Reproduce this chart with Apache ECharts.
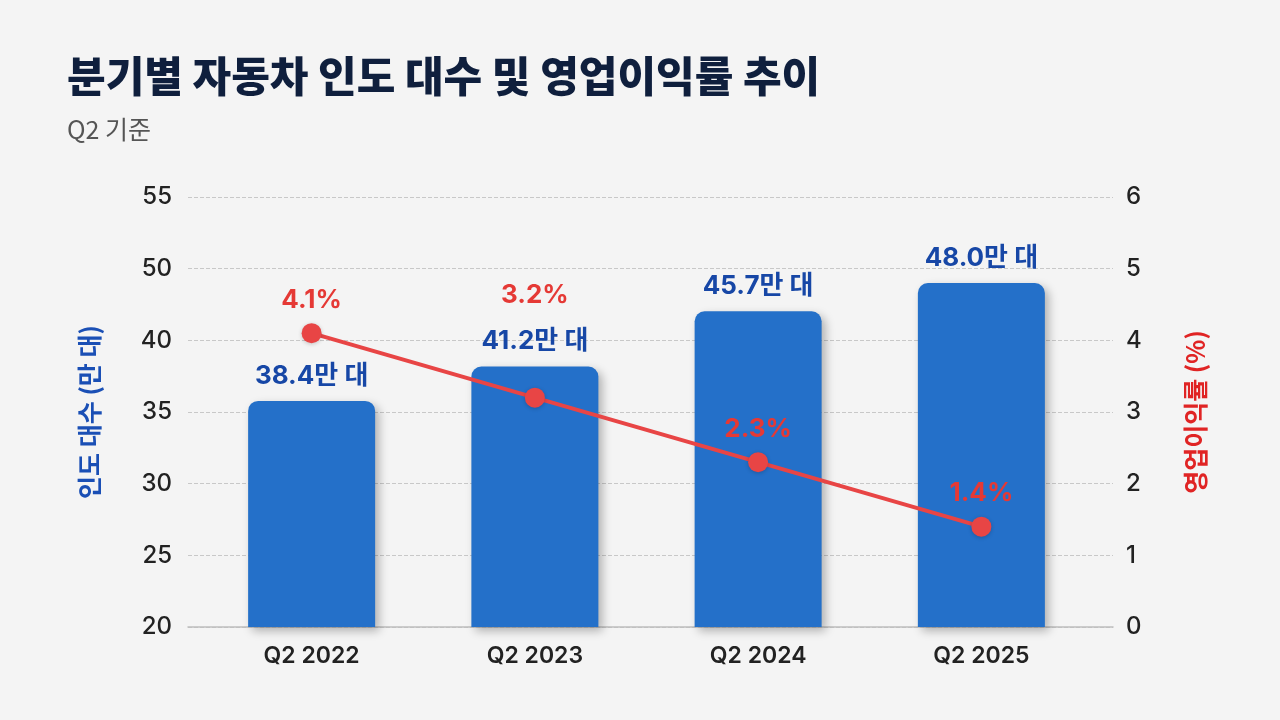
<!DOCTYPE html>
<html><head><meta charset="utf-8">
<script src="https://cdn.jsdelivr.net/npm/echarts@6/dist/echarts.min.js"></script>
<style>html,body{margin:0;padding:0;background:#f4f4f4}#c{width:1280px;height:720px}</style>
</head><body><div id="c"></div>
<script>
const categories = ['Q2 2022', 'Q2 2023', 'Q2 2024', 'Q2 2025'];
const deliveries = [38.4, 41.2, 45.7, 48.0];      // 만 대
const opMargins = [4.1, 3.2, 2.3, 1.4];           // %
const leftTickLabels = ['20', '25', '30', '35', '40', '50', '55'];
const rightTickLabels = ['0', '1', '2', '3', '4', '5', '6'];

const FONT = "Inter, 'Noto Sans CJK KR', sans-serif";
const KFONT = "'Noto Sans CJK KR', sans-serif";
const BAR_LABEL_DIST = 12;
const BAR_LABEL_H = 32;
const chart = echarts.init(document.getElementById('c'));

// keep a margin label clear of the delivery label of the same quarter
function avoidBarLabel(params) {
  const i = params.dataIndex;
  let p;
  try { p = chart.convertToPixel({ xAxisIndex: 1, yAxisIndex: 2 }, [i, deliveries[i]]); } catch (e) { return {}; }
  if (!p) return {};
  const blBottom = p[1] - BAR_LABEL_DIST;
  const blTop = blBottom - BAR_LABEL_H;
  const r = params.labelRect;
  if (r.y < blBottom && r.y + r.height > blTop) {
    return { dy: (blTop - 14) - (r.y + r.height) };
  }
  return {};
}

chart.setOption({
  backgroundColor: '#f4f4f4',
  animation: false,
  title: {
    left: 62, top: 50,
    text: '분기별 자동차 인도 대수 및 영업이익률 추이',
    subtext: 'Q2 기준',
    itemGap: 20,
    textStyle: { fontFamily: KFONT, fontSize: 42, fontWeight: 900, color: '#0f1f3d' },
    subtextStyle: { fontFamily: KFONT, fontSize: 25, color: '#555555' }
  },
  grid: [
    { left: 188, right: 167, top: 197, bottom: 93 },
    { left: 200, right: 187, top: 197, bottom: 93 }
  ],
  xAxis: [
    { gridIndex: 0, type: 'value', min: 0, max: 1, axisLabel: { show: false }, axisTick: { show: false },
      splitLine: { show: false }, axisLine: { show: true, lineStyle: { color: '#bdbdbd', width: 1.5 } } },
    { gridIndex: 1, type: 'category', data: categories,
      axisLine: { show: false }, axisTick: { show: false },
      axisLabel: { margin: 18, fontFamily: FONT, fontSize: 23, fontWeight: 600, color: '#222' } }
  ],
  yAxis: [
    { gridIndex: 0, type: 'value', position: 'left', min: 0, max: 6, interval: 1,
      axisLine: { show: false }, axisTick: { show: false },
      splitLine: { show: true, lineStyle: { type: 'dashed', color: '#c8c8c8', width: 1 } },
      axisLabel: { margin: 16, fontFamily: FONT, fontSize: 24, fontWeight: 500, color: '#222',
        formatter: (v) => leftTickLabels[Math.round(v)] },
      name: '인도 대수 (만 대)', nameLocation: 'middle', nameRotate: 90, nameGap: 86,
      nameTextStyle: { fontFamily: KFONT, fontSize: 25, fontWeight: 'bold', color: '#1a4fb5' } },
    { gridIndex: 0, type: 'value', position: 'right', min: 0, max: 6, interval: 1,
      axisLine: { show: false }, axisTick: { show: false }, splitLine: { show: false },
      axisLabel: { margin: 13, fontFamily: FONT, fontSize: 24, fontWeight: 500, color: '#222',
        formatter: (v) => rightTickLabels[Math.round(v)] },
      name: '영업이익률 (%)', nameLocation: 'middle', nameRotate: 90, nameGap: 70,
      nameTextStyle: { fontFamily: KFONT, fontSize: 25, fontWeight: 'bold', color: '#e02424' } },
    { gridIndex: 1, type: 'value', position: 'left', min: 20, max: 55,
      axisLine: { show: false }, axisTick: { show: false }, splitLine: { show: false }, axisLabel: { show: false } },
    { gridIndex: 1, type: 'value', position: 'right', min: 0, max: 6,
      axisLine: { show: false }, axisTick: { show: false }, splitLine: { show: false }, axisLabel: { show: false } }
  ],
  series: [
    { type: 'bar', name: '인도 대수', xAxisIndex: 1, yAxisIndex: 2, data: deliveries, barWidth: 127,
      itemStyle: { color: '#2470c9', borderRadius: [10, 10, 0, 0],
        shadowColor: 'rgba(0,0,0,0.28)', shadowBlur: 10, shadowOffsetX: 4, shadowOffsetY: 4 },
      label: { show: true, position: 'top', distance: BAR_LABEL_DIST, fontFamily: FONT, fontSize: 26, fontWeight: 'bold',
        color: '#1747a6', formatter: (p) => p.value.toFixed(1) + '만 대' } },
    { type: 'line', name: '영업이익률', xAxisIndex: 1, yAxisIndex: 3, data: opMargins, z: 5,
      symbol: 'circle', symbolSize: 20,
      lineStyle: { color: '#e84545', width: 4 },
      itemStyle: { color: '#e84545', shadowColor: 'rgba(0,0,0,0.2)', shadowBlur: 4, shadowOffsetY: 1 },
      label: { show: true, position: 'top', distance: 10, fontFamily: FONT, fontSize: 26, fontWeight: 'bold',
        color: '#e53935', formatter: (p) => p.value.toFixed(1) + '%' },
      labelLayout: avoidBarLabel }
  ]
});
</script></body></html>
